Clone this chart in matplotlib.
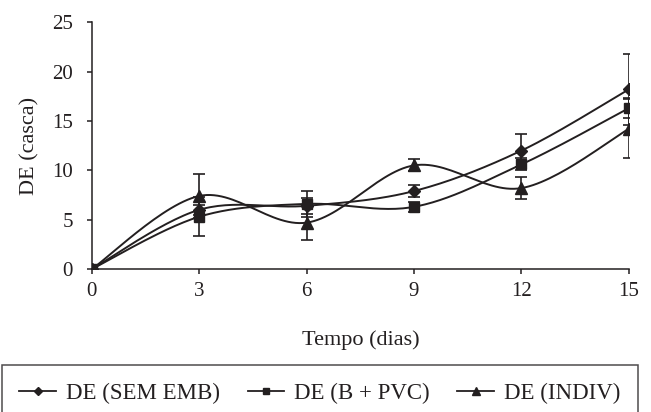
""" DE (casca) over tempo (dias), three packaging treatments """

import numpy as np
import matplotlib.pyplot as plt

dias = [0, 3, 6, 9, 12, 15]
sem_emb = [0, 6.0, 6.4, 7.9, 12.0, 18.2]
sem_emb_err = [0, 0.5, 0.8, 0.6, 1.7, 3.6]
b_pvc = [0, 5.3, 6.6, 6.3, 10.6, 16.3]
b_pvc_err = [0, 2.0, 1.3, 0.5, 0.6, 1.0]
indiv = [0, 7.4, 4.7, 10.5, 8.2, 14.2]
indiv_err = [0, 2.2, 1.8, 0.6, 1.1, 3.0]


def smooth(x, y, n=30):
    """ excel-like smoothed line (bezier, catmull-rom control points) """
    x = np.asarray(x, float)
    y = np.asarray(y, float)
    px = np.concatenate([[x[0]], x, [x[-1]]])
    py = np.concatenate([[y[0]], y, [y[-1]]])
    xs, ys = [], []
    t = np.linspace(0, 1, n)
    for i in range(1, len(px) - 2):
        p0 = np.array([px[i], py[i]])
        p3 = np.array([px[i + 1], py[i + 1]])
        c1 = p0 + (np.array([px[i + 1], py[i + 1]]) - np.array([px[i - 1], py[i - 1]])) / 6
        c2 = p3 - (np.array([px[i + 2], py[i + 2]]) - np.array([px[i], py[i]])) / 6
        b = ((1 - t) ** 3)[:, None] * p0 + (3 * (1 - t) ** 2 * t)[:, None] * c1 \
            + (3 * (1 - t) * t ** 2)[:, None] * c2 + (t ** 3)[:, None] * p3
        xs.extend(b[:, 0])
        ys.extend(b[:, 1])
    return xs, ys


plt.rcParams.update({
    "font.family": "serif",
    "font.serif": ["Liberation Serif", "DejaVu Serif"],
    "font.size": 15,
})

ink = "#231f20"
fig = plt.figure(figsize=(6.51, 4.12), dpi=100)
ax = fig.add_axes([0.141, 0.347, 0.825, 0.599])

series = [
    (sem_emb, sem_emb_err, "D", 6, "DE (SEM EMB)"),
    (b_pvc, b_pvc_err, "s", 7, "DE (B + PVC)"),
    (indiv, indiv_err, "^", 8, "DE (INDIV)"),
]
handles = []
for vals, err, mk, ms, lab in series:
    sx, sy = smooth(dias, vals)
    ax.plot(sx, sy, color=ink, linewidth=1.4, zorder=2)
    ax.errorbar(dias, vals, yerr=err, fmt="none", ecolor=ink,
                elinewidth=1.2, capsize=4.5, capthick=1.2, zorder=3)
    ax.plot(dias, vals, linestyle="none", marker=mk, markersize=ms,
            color=ink, zorder=4)
    h, = ax.plot([], [], color=ink, linewidth=1.3, marker=mk,
                 markersize=ms - 2, label=lab)
    handles.append(h)

ax.set_xlim(0, 15)
ax.set_ylim(0, 25)
ax.set_xticks(dias)
ax.set_yticks(np.arange(0, 26, 5))
ax.spines["top"].set_visible(False)
ax.spines["right"].set_visible(False)
for s in ("left", "bottom"):
    ax.spines[s].set_color(ink)
    ax.spines[s].set_linewidth(1.1)
ax.tick_params(axis="both", direction="out", length=3.5, width=1.1,
               color=ink, labelcolor=ink)
ax.tick_params(axis="y", pad=10)
ax.tick_params(axis="x", pad=6)
ax.set_xlabel("Tempo (dias)", color=ink, labelpad=21, fontsize=16)
ax.set_ylabel("DE (casca)", color=ink, labelpad=9, fontsize=16)

leg = fig.legend(handles=handles, loc="lower center", ncol=3,
                 bbox_to_anchor=(2 / 651, -9 / 412, 636 / 651, 0.1),
                 mode="expand", frameon=True, fancybox=False,
                 edgecolor=ink, handlelength=1.6, handletextpad=0.45,
                 columnspacing=1.0, borderpad=0.75, borderaxespad=0,
                 fontsize=16.5)
leg.get_frame().set_linewidth(1.1)
for t in leg.get_texts():
    t.set_color(ink)

fig.savefig("out.png", dpi=100)
